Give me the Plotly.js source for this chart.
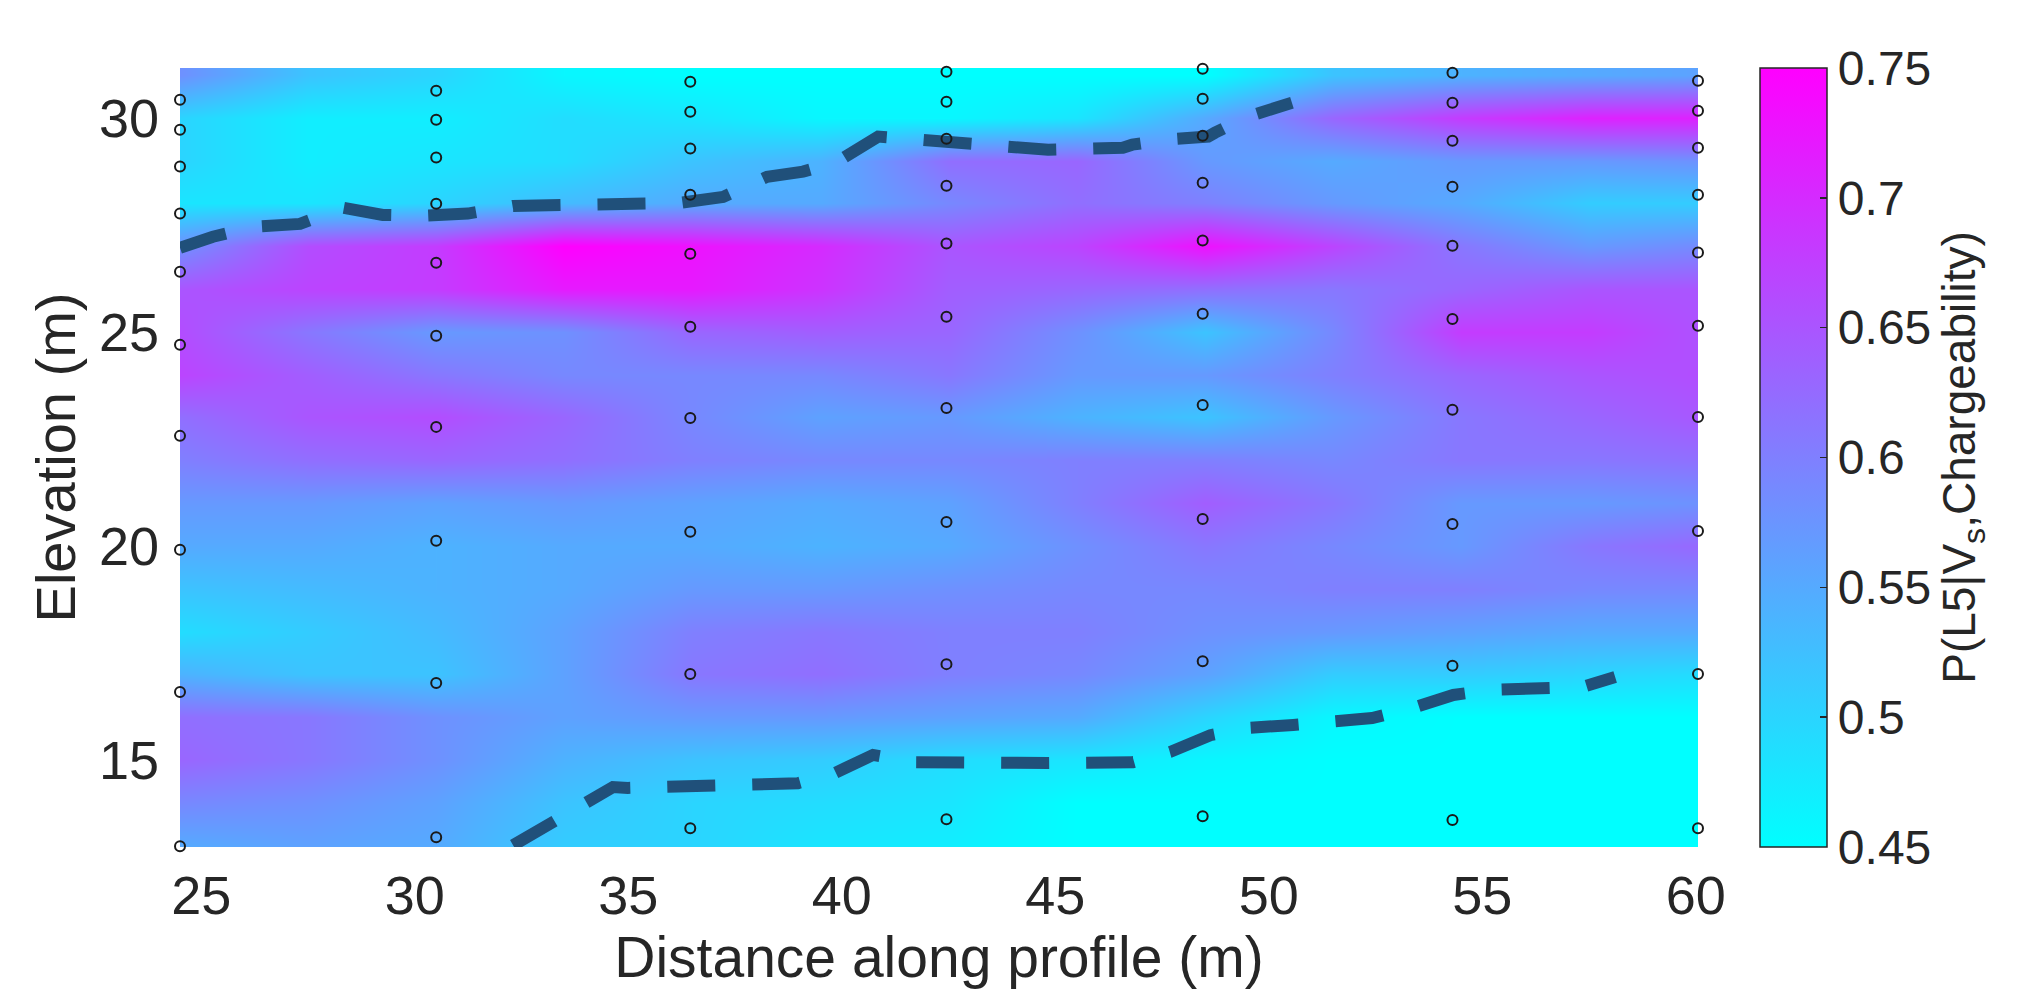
<!DOCTYPE html>
<html>
<head>
<meta charset="utf-8">
<script src="https://cdn.plot.ly/plotly-3.0.1.min.js"></script>
<style>html,body{margin:0;padding:0;background:#fff;}#chart{width:2017px;height:998px;}</style>
</head>
<body>
<div id="chart"></div>
<script>
// Probability field (rows = elevation, cols = distance)
const gridX = [24.5, 27.5, 30.5, 33.5, 36.5, 39.5, 42.5, 45.5, 48.5, 51.5, 54.5, 57.5, 60.5];
const gridY = [13, 14, 15, 16, 17, 18, 19, 20, 21, 22, 23, 24, 25, 26, 27, 28, 29, 30, 31];
const probGrid = [
  [0.55, 0.56, 0.55, 0.51, 0.50, 0.48, 0.47, 0.45, 0.45, 0.45, 0.45, 0.45, 0.45], // 13
  [0.59, 0.58, 0.56, 0.52, 0.50, 0.49, 0.48, 0.45, 0.45, 0.45, 0.45, 0.45, 0.45], // 14
  [0.63, 0.61, 0.58, 0.54, 0.52, 0.51, 0.49, 0.48, 0.46, 0.45, 0.45, 0.45, 0.45], // 15
  [0.62, 0.61, 0.58, 0.56, 0.57, 0.57, 0.56, 0.55, 0.50, 0.46, 0.45, 0.45, 0.45], // 16
  [0.54, 0.52, 0.52, 0.56, 0.61, 0.62, 0.60, 0.59, 0.56, 0.51, 0.51, 0.50, 0.49], // 17
  [0.49, 0.51, 0.53, 0.56, 0.60, 0.61, 0.60, 0.60, 0.58, 0.57, 0.56, 0.55, 0.55], // 18
  [0.52, 0.53, 0.54, 0.55, 0.57, 0.57, 0.58, 0.59, 0.59, 0.60, 0.60, 0.59, 0.59], // 19
  [0.55, 0.55, 0.54, 0.55, 0.55, 0.54, 0.55, 0.58, 0.61, 0.59, 0.57, 0.61, 0.63], // 20
  [0.57, 0.57, 0.56, 0.57, 0.56, 0.55, 0.56, 0.60, 0.64, 0.61, 0.57, 0.57, 0.58], // 21
  [0.60, 0.62, 0.63, 0.62, 0.60, 0.59, 0.59, 0.60, 0.60, 0.59, 0.61, 0.61, 0.62], // 22
  [0.62, 0.65, 0.66, 0.63, 0.59, 0.56, 0.57, 0.54, 0.52, 0.57, 0.61, 0.63, 0.65], // 23
  [0.67, 0.64, 0.61, 0.59, 0.59, 0.59, 0.61, 0.57, 0.57, 0.60, 0.63, 0.65, 0.66], // 24
  [0.66, 0.61, 0.57, 0.58, 0.63, 0.64, 0.63, 0.58, 0.52, 0.59, 0.68, 0.68, 0.65], // 25
  [0.65, 0.67, 0.68, 0.72, 0.72, 0.69, 0.64, 0.63, 0.62, 0.61, 0.63, 0.65, 0.65], // 26
  [0.58, 0.66, 0.68, 0.75, 0.73, 0.70, 0.65, 0.67, 0.73, 0.67, 0.61, 0.57, 0.59], // 27
  [0.48, 0.48, 0.50, 0.53, 0.55, 0.55, 0.59, 0.62, 0.60, 0.57, 0.55, 0.51, 0.51], // 28
  [0.50, 0.47, 0.48, 0.49, 0.52, 0.54, 0.62, 0.63, 0.57, 0.55, 0.57, 0.57, 0.58], // 29
  [0.50, 0.47, 0.47, 0.49, 0.48, 0.46, 0.46, 0.48, 0.55, 0.63, 0.68, 0.71, 0.71], // 30
  [0.58, 0.52, 0.50, 0.46, 0.45, 0.45, 0.45, 0.45, 0.45, 0.52, 0.54, 0.55, 0.56]  // 31
];

// Measurement stations (distance) and the elevations of their sample points
const stationX = [24.5, 30.5, 36.45, 42.45, 48.45, 54.3, 60.05];
const stationElev = [
  [30.42, 29.72, 28.86, 27.76, 26.40, 24.70, 22.57, 19.91, 16.59, 12.99],
  [30.63, 29.95, 29.07, 27.99, 26.61, 24.91, 22.78, 20.12, 16.80, 13.20],
  [30.84, 30.14, 29.28, 28.20, 26.82, 25.12, 22.99, 20.33, 17.01, 13.41],
  [31.07, 30.37, 29.51, 28.41, 27.06, 25.35, 23.22, 20.56, 17.24, 13.62],
  [31.14, 30.44, 29.58, 28.48, 27.13, 25.42, 23.29, 20.63, 17.31, 13.69],
  [31.05, 30.35, 29.46, 28.39, 27.01, 25.30, 23.18, 20.51, 17.20, 13.60],
  [30.86, 30.16, 29.30, 28.20, 26.85, 25.14, 23.01, 20.35, 17.01, 13.41]
];

// Dashed boundaries
const upperX = [24.50, 25.27, 26.21, 27.31, 28.31, 29.25, 30.16, 31.24, 32.30, 33.21, 35.23, 36.21, 37.22, 38.25, 39.09, 39.89, 40.85, 41.71, 42.84, 43.70, 44.83, 46.58, 46.80, 47.64, 48.58, 48.74, 49.49, 50.54];
const upperY = [26.96, 27.22, 27.45, 27.52, 27.90, 27.73, 27.71, 27.76, 27.94, 27.97, 28.01, 28.01, 28.15, 28.62, 28.74, 28.97, 29.56, 29.49, 29.35, 29.28, 29.25, 29.30, 29.37, 29.49, 29.56, 29.65, 30.02, 30.35];
const lowerX = [32.30, 33.21, 33.98, 34.64, 34.99, 35.90, 36.98, 37.85, 38.97, 39.84, 40.73, 41.71, 42.84, 44.83, 46.82, 47.69, 48.63, 49.49, 50.57, 52.42, 53.35, 54.32, 55.18, 56.28, 57.36, 58.11];
const lowerY = [13.01, 13.53, 14.02, 14.37, 14.35, 14.39, 14.42, 14.44, 14.46, 14.70, 15.12, 14.95, 14.93, 14.93, 14.95, 15.19, 15.58, 15.75, 15.82, 15.98, 16.21, 16.52, 16.64, 16.66, 16.71, 16.94];

const xTicks = [25, 30, 35, 40, 45, 50, 55, 60];
const yTicks = [15, 20, 25, 30];
const cbTicks = [0.45, 0.5, 0.55, 0.6, 0.65, 0.7, 0.75];
const cbTickText = ['0.45', '0.5', '0.55', '0.6', '0.65', '0.7', '0.75'];

const FONT = 'Liberation Sans, Arial, sans-serif';
const TXT = '#262626';

const ptX = [], ptY = [];
stationX.forEach((sx, i) => stationElev[i].forEach(e => { ptX.push(sx); ptY.push(e); }));

const plotW = 2017 - 180 - 319;

const traces = [
  {
    type: 'heatmap', x: gridX, y: gridY, z: probGrid,
    zmin: 0.45, zmax: 0.75, zsmooth: 'best',
    colorscale: [[0, '#00ffff'], [1, '#ff00ff']],
    hoverinfo: 'skip',
    colorbar: {
      thickness: 67, thicknessmode: 'pixels',
      len: 1, lenmode: 'fraction',
      x: 1 + 62 / plotW, xanchor: 'left', y: 0.5, yanchor: 'middle',
      xpad: 0, ypad: 0,
      outlinewidth: 1.5, outlinecolor: TXT,
      ticks: 'inside', ticklen: 7, tickwidth: 1.5, tickcolor: TXT,
      tickvals: cbTicks, ticktext: cbTickText,
      tickfont: {family: FONT, size: 48, color: TXT},
      title: {text: 'P(L5|V<sub>s</sub>,Chargeability)', side: 'right', font: {family: FONT, size: 46, color: TXT}}
    }
  },
  {
    type: 'scatter', mode: 'lines', x: upperX, y: upperY,
    line: {color: '#20507a', width: 12, dash: '48px,37px'},
    hoverinfo: 'skip', showlegend: false
  },
  {
    type: 'scatter', mode: 'lines', x: lowerX, y: lowerY,
    line: {color: '#20507a', width: 12, dash: '48px,37px'},
    hoverinfo: 'skip', showlegend: false
  },
  {
    type: 'scatter', mode: 'markers', x: ptX, y: ptY, cliponaxis: false,
    marker: {symbol: 'circle', size: 10, color: 'rgba(0,0,0,0)', line: {color: '#1a1a1a', width: 2}},
    hoverinfo: 'skip', showlegend: false
  }
];

const layout = {
  width: 2017, height: 998,
  margin: {l: 180, r: 319, t: 68, b: 151, pad: 0},
  paper_bgcolor: '#ffffff', plot_bgcolor: '#ffffff',
  showlegend: false,
  font: {family: FONT, color: TXT},
  xaxis: {
    range: [24.5, 60.05], tickvals: xTicks, ticktext: xTicks.map(String),
    ticks: '', showgrid: false, zeroline: false, showline: false,
    tickfont: {family: FONT, size: 54, color: TXT}, ticklabelstandoff: 12,
    title: {text: 'Distance along profile (m)', font: {family: FONT, size: 57, color: TXT}, standoff: 8},
    automargin: false
  },
  yaxis: {
    range: [12.97, 31.16], tickvals: yTicks, ticktext: yTicks.map(String),
    ticks: '', showgrid: false, zeroline: false, showline: false,
    tickfont: {family: FONT, size: 54, color: TXT}, ticklabelstandoff: 20,
    title: {text: 'Elevation (m)', font: {family: FONT, size: 56, color: TXT}, standoff: 5},
    automargin: false
  }
};

Plotly.newPlot('chart', traces, layout, {displayModeBar: false, staticPlot: true});
</script>
</body>
</html>
